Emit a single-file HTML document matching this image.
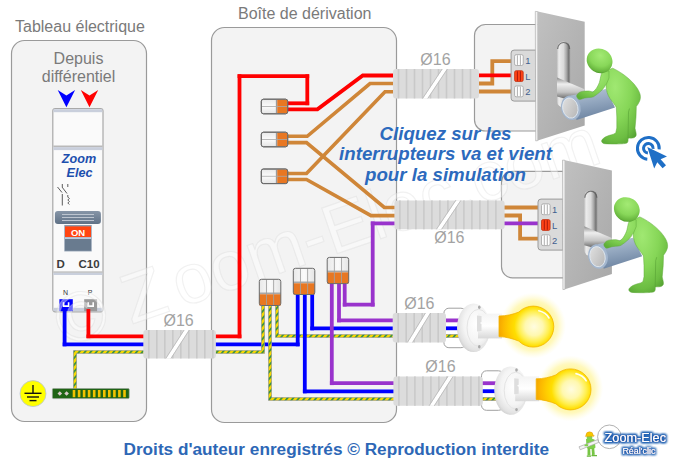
<!DOCTYPE html><html><head><meta charset="utf-8"><style>html,body{margin:0;padding:0;background:#fff;}svg{display:block;}text{font-family:"Liberation Sans",sans-serif;}</style></head><body>
<svg width="674" height="461" viewBox="0 0 674 461">
<defs>
<radialGradient id="glow" cx="0.5" cy="0.5" r="0.5"><stop offset="0.5" stop-color="#fff590" stop-opacity="1"/><stop offset="0.75" stop-color="#fff6a8" stop-opacity="0.75"/><stop offset="1" stop-color="#fffbd0" stop-opacity="0"/></radialGradient>
<radialGradient id="bulb" cx="0.5" cy="0.5" r="0.5"><stop offset="0" stop-color="#fffce8"/><stop offset="0.45" stop-color="#fff8b8"/><stop offset="0.75" stop-color="#ffea50"/><stop offset="0.9" stop-color="#ffd600"/><stop offset="1" stop-color="#f3b900"/></radialGradient>
<linearGradient id="neckg" x1="499" y1="0" x2="530" y2="0" gradientUnits="userSpaceOnUse"><stop offset="0" stop-color="#f2a200"/><stop offset="0.35" stop-color="#ffc400"/><stop offset="0.7" stop-color="#ffe23a"/><stop offset="1" stop-color="#ffea50"/></linearGradient>
<linearGradient id="sock" x1="0" y1="0" x2="0" y2="1"><stop offset="0" stop-color="#f4f4f4"/><stop offset="0.5" stop-color="#ffffff"/><stop offset="1" stop-color="#d8d8d8"/></linearGradient>
<linearGradient id="plate" x1="0" y1="0" x2="1" y2="1"><stop offset="0" stop-color="#c0c0c0"/><stop offset="1" stop-color="#a8a8a8"/></linearGradient>
<linearGradient id="cyl" x1="0" y1="0" x2="0.25" y2="1"><stop offset="0" stop-color="#b9c7d8"/><stop offset="0.5" stop-color="#93a7bf"/><stop offset="1" stop-color="#6f86a3"/></linearGradient>
<radialGradient id="green" cx="0.35" cy="0.25" r="0.85"><stop offset="0" stop-color="#a0e872"/><stop offset="0.5" stop-color="#86d657"/><stop offset="0.82" stop-color="#6cbd42"/><stop offset="1" stop-color="#529e30"/></radialGradient>
<linearGradient id="slot" x1="0" y1="0" x2="1" y2="0"><stop offset="0" stop-color="#bdbdbd"/><stop offset="0.15" stop-color="#ececec"/><stop offset="0.5" stop-color="#dadada"/><stop offset="0.72" stop-color="#a8a8a8"/><stop offset="0.88" stop-color="#767676"/><stop offset="1" stop-color="#9a9a9a"/></linearGradient>
<linearGradient id="lever" x1="0" y1="0" x2="0" y2="1"><stop offset="0" stop-color="#8c8c8c"/><stop offset="0.25" stop-color="#eeeeee"/><stop offset="0.55" stop-color="#c4c4c4"/><stop offset="0.8" stop-color="#6c6c6c"/><stop offset="1" stop-color="#555"/></linearGradient>
<linearGradient id="wago" x1="0" y1="0" x2="0" y2="1"><stop offset="0" stop-color="#e8e8e8"/><stop offset="0.5" stop-color="#fbfbfb"/><stop offset="1" stop-color="#e4e4e4"/></linearGradient>
<linearGradient id="wagoh" x1="0" y1="0" x2="1" y2="0"><stop offset="0" stop-color="#e8e8e8"/><stop offset="0.5" stop-color="#fbfbfb"/><stop offset="1" stop-color="#e4e4e4"/></linearGradient>
<linearGradient id="lev" x1="0" y1="0" x2="0" y2="1"><stop offset="0" stop-color="#8796a8"/><stop offset="1" stop-color="#5f7186"/></linearGradient>
<radialGradient id="pear" cx="534" cy="326.6" r="36" gradientUnits="userSpaceOnUse"><stop offset="0" stop-color="#fffce0"/><stop offset="0.25" stop-color="#fff8b0"/><stop offset="0.42" stop-color="#ffef50"/><stop offset="0.55" stop-color="#ffde00"/><stop offset="0.7" stop-color="#ffcc00"/><stop offset="0.86" stop-color="#fcb800"/><stop offset="1" stop-color="#f4a400"/></radialGradient>
<pattern id="gyp" patternUnits="userSpaceOnUse" width="4.4" height="4.4" patternTransform="rotate(40)"><rect width="4.4" height="4.4" fill="#f7d600"/><rect width="1.8" height="4.4" fill="#3f9440"/></pattern>
<radialGradient id="green2" cx="0.6" cy="0.2" r="0.9"><stop offset="0" stop-color="#a0e872"/><stop offset="0.6" stop-color="#84d455"/><stop offset="1" stop-color="#5eae38"/></radialGradient>
<radialGradient id="green3" cx="0.42" cy="0.3" r="0.72"><stop offset="0" stop-color="#a3ea74"/><stop offset="0.6" stop-color="#88d759"/><stop offset="0.9" stop-color="#68b63e"/><stop offset="1" stop-color="#4f9a2c"/></radialGradient>
<linearGradient id="cap" x1="0" y1="0" x2="1" y2="1"><stop offset="0" stop-color="#e2e2e2"/><stop offset="1" stop-color="#b4b4b4"/></linearGradient>
<radialGradient id="flange" cx="0.58" cy="0.42" r="0.62"><stop offset="0" stop-color="#ffffff"/><stop offset="0.6" stop-color="#f4f4f4"/><stop offset="0.88" stop-color="#e2e2e2"/><stop offset="1" stop-color="#cfcfcf"/></radialGradient>
</defs>
<text x="15" y="32" font-size="16" fill="#7a7a7a">Tableau électrique</text>
<text x="238" y="19" font-size="16" fill="#7a7a7a">Boîte de dérivation</text>
<rect x="11.5" y="40.5" width="135" height="381" rx="13" fill="#f3f3f3" stroke="#9a9a9a" stroke-width="1.2"/>
<rect x="211.5" y="27.5" width="185" height="395" rx="13" fill="#f3f3f3" stroke="#9a9a9a" stroke-width="1.2"/>
<rect x="474.5" y="24.5" width="80" height="106.5" rx="11" fill="#f3f3f3" stroke="#9a9a9a" stroke-width="1.2"/>
<rect x="501.5" y="171.3" width="80" height="106.5" rx="11" fill="#f3f3f3" stroke="#9a9a9a" stroke-width="1.2"/>
<text x="78.5" y="64" font-size="16" fill="#7a7a7a" text-anchor="middle">Depuis</text>
<text x="78.5" y="81.5" font-size="16" fill="#7a7a7a" text-anchor="middle">différentiel</text>
<path d="M57.7,90 L66.4,95.5 L75.10000000000001,90 L66.4,107.3 Z" fill="#0000ff"/>
<path d="M80.8,90 L89.5,95.5 L98.2,90 L89.5,107.3 Z" fill="#ff0000"/>
<g>
<rect x="52.8" y="108.5" width="50.2" height="203.3" rx="2.5" fill="#fafafa" stroke="#a9a9a9" stroke-width="1.2"/>
<rect x="53.4" y="109.2" width="49" height="3" fill="#c9cfdc"/>
<rect x="53.4" y="145.5" width="49" height="1.6" fill="#b9b9b9"/>
<rect x="53.4" y="147.1" width="49" height="3" fill="#c9cfdc"/>
<rect x="53.4" y="271.4" width="49" height="1.4" fill="#b9b9b9"/>
<rect x="53.4" y="272.8" width="49" height="2.2" fill="#c9cfdc"/>
<rect x="53.4" y="307.8" width="49" height="3.4" fill="#c9cfdc"/>
<text x="79" y="162.5" font-size="12.6" font-weight="bold" font-style="italic" fill="#1c4fae" text-anchor="middle">Zoom</text>
<text x="79.5" y="177" font-size="12.6" font-weight="bold" font-style="italic" fill="#1c4fae" text-anchor="middle">Elec</text>
<g stroke="#333" stroke-width="0.8" fill="none"><path d="M57.5,187 L62,192.5 M62.3,194 L62.3,205.5 M62.3,184 L62.3,187"/><path d="M62,187 L67,193.5 M67.8,184 L67.8,187 M67.8,195 L67.8,197 l1.5,1.5 l-1.5,1.5 l1.5,1.5 l-1.5,1.5 l1.5,1.5"/></g>
<rect x="54.9" y="210.9" width="46" height="13.1" rx="3" fill="url(#lev)"/>
<g stroke="#c4ccd6" stroke-width="0.9"><line x1="62" y1="214.5" x2="94" y2="214.5"/><line x1="62" y1="217.5" x2="94" y2="217.5"/><line x1="62" y1="220.5" x2="94" y2="220.5"/></g>
<rect x="64.3" y="225" width="27.4" height="26.4" fill="#8b9bae"/>
<rect x="65" y="226.4" width="26" height="10.8" fill="#ff4512"/>
<text x="78" y="235.6" font-size="9.5" font-weight="bold" fill="#ffffff" text-anchor="middle">ON</text>
<rect x="65" y="237.2" width="26" height="1.8" fill="#b9cbe0"/>
<rect x="65" y="239" width="26" height="11.6" fill="#697b8f"/>
<text x="56.6" y="267.6" font-size="11.5" font-weight="bold" fill="#3c3c3c">D</text>
<text x="99.6" y="267.6" font-size="11.5" font-weight="bold" fill="#3c3c3c" text-anchor="end">C10</text>
<text x="65.5" y="295.3" font-size="7" fill="#333" text-anchor="middle">N</text>
<text x="90" y="295.3" font-size="7" fill="#333" text-anchor="middle">P</text>
<rect x="59.4" y="299.2" width="13.4" height="12" fill="#0000ff"/>
<path d="M62.8,302.3 v4.6 h6.6 v-4.6 h-1.6 v3 h-3.4 v-3 z" fill="#fff"/>
<rect x="84.2" y="299.2" width="12.9" height="12" fill="#9a9a9a"/>
<path d="M87.4,302.3 v4.6 h6.6 v-4.6 h-1.6 v3 h-3.4 v-3 z" fill="#fff"/>
</g>
<circle cx="33" cy="393.6" r="13" fill="#ffff00" stroke="#b8c4d8" stroke-width="0.8"/>
<g stroke="#111" stroke-width="1.4"><line x1="33" y1="385" x2="33" y2="393"/><line x1="24.5" y1="393.3" x2="41.5" y2="393.3"/><line x1="27" y1="397" x2="39" y2="397"/><line x1="29.5" y1="400.6" x2="36.5" y2="400.6"/></g>
<text x="64.6" y="347.6" font-size="70" transform="rotate(-19 64.6 347.6)" fill="#ffffff" fill-opacity="0.4" stroke="#d6d6d6" stroke-opacity="0.34" stroke-width="1.1"><tspan>©</tspan><tspan dx="19">Z</tspan><tspan dx="10">oom-Elec.com</tspan></text>
<path d="M88.4,336.3 L239.5,336.3" fill="none" stroke="#ff0000" stroke-width="3.8" stroke-linecap="square" stroke-linejoin="miter"/><path d="M239.5,76.2 L307.3,76.2" fill="none" stroke="#ff0000" stroke-width="3.8" stroke-linecap="square" stroke-linejoin="miter"/><path d="M307.3,103.3 L286,103.3" fill="none" stroke="#ff0000" stroke-width="3.8" stroke-linecap="square" stroke-linejoin="miter"/><path d="M286,109.3 L317.4,109.3 L362.8,75.5 L400,75.5" fill="none" stroke="#ff0000" stroke-width="3.8" stroke-linecap="square" stroke-linejoin="miter"/><path d="M64.6,344.4 L297.7,344.4" fill="none" stroke="#0000ff" stroke-width="3.8" stroke-linecap="square" stroke-linejoin="miter"/><path d="M304.8,391.4 L400,391.4" fill="none" stroke="#0000ff" stroke-width="3.8" stroke-linecap="square" stroke-linejoin="miter"/><path d="M312.2,328.4 L400,328.4" fill="none" stroke="#0000ff" stroke-width="3.8" stroke-linecap="square" stroke-linejoin="miter"/><path d="M331.8,383.2 L400,383.2" fill="none" stroke="#9933cc" stroke-width="3.8" stroke-linecap="square" stroke-linejoin="miter"/><path d="M339,320.4 L400,320.4" fill="none" stroke="#9933cc" stroke-width="3.8" stroke-linecap="square" stroke-linejoin="miter"/><path d="M344.7,304.6 L372.7,304.6" fill="none" stroke="#9933cc" stroke-width="3.8" stroke-linecap="square" stroke-linejoin="miter"/><path d="M372.7,223.4 L400,223.4" fill="none" stroke="#9933cc" stroke-width="3.8" stroke-linecap="square" stroke-linejoin="miter"/><path d="M286,136.3 L307.2,136.3 L370,83.5 L400,83.5" fill="none" stroke="#cf8638" stroke-width="3.6" stroke-linecap="square" stroke-linejoin="miter"/><path d="M286,142.6 L306.5,142.6 L384.3,207.5 L400,207.5" fill="none" stroke="#cf8638" stroke-width="3.6" stroke-linecap="square" stroke-linejoin="miter"/><path d="M286,173.5 L306.5,173.5 L385,91.7 L400,91.7" fill="none" stroke="#cf8638" stroke-width="3.6" stroke-linecap="square" stroke-linejoin="miter"/><path d="M286,179.5 L306.5,179.5 L371,215.6 L400,215.6" fill="none" stroke="#cf8638" stroke-width="3.6" stroke-linecap="square" stroke-linejoin="miter"/>
<path d="M75,389 L75,352 L263,352 L263,304" fill="none" stroke="#979797" stroke-width="3.7"/><path d="M75,389 L75,352 L263,352 L263,304" fill="none" stroke="url(#gyp)" stroke-width="2.5"/>
<path d="M270,304 L270,399 L400,399" fill="none" stroke="#979797" stroke-width="3.7"/><path d="M270,304 L270,399 L400,399" fill="none" stroke="url(#gyp)" stroke-width="2.5"/>
<path d="M277,304 L277,336 L400,336" fill="none" stroke="#979797" stroke-width="3.7"/><path d="M277,304 L277,336 L400,336" fill="none" stroke="url(#gyp)" stroke-width="2.5"/>
<path d="M88.4,311 L88.4,336.3" fill="none" stroke="#ff0000" stroke-width="3.8" stroke-linecap="square" stroke-linejoin="miter"/><path d="M239.5,336.3 L239.5,76.2" fill="none" stroke="#ff0000" stroke-width="3.8" stroke-linecap="square" stroke-linejoin="miter"/><path d="M307.3,76.2 L307.3,103.3" fill="none" stroke="#ff0000" stroke-width="3.8" stroke-linecap="square" stroke-linejoin="miter"/><path d="M64.6,311 L64.6,344.4" fill="none" stroke="#0000ff" stroke-width="3.8" stroke-linecap="square" stroke-linejoin="miter"/><path d="M297.7,344.4 L297.7,292" fill="none" stroke="#0000ff" stroke-width="3.8" stroke-linecap="square" stroke-linejoin="miter"/><path d="M304.8,292 L304.8,391.4" fill="none" stroke="#0000ff" stroke-width="3.8" stroke-linecap="square" stroke-linejoin="miter"/><path d="M312.2,292 L312.2,328.4" fill="none" stroke="#0000ff" stroke-width="3.8" stroke-linecap="square" stroke-linejoin="miter"/><path d="M331.8,282 L331.8,383.2" fill="none" stroke="#9933cc" stroke-width="3.8" stroke-linecap="square" stroke-linejoin="miter"/><path d="M339,282 L339,320.4" fill="none" stroke="#9933cc" stroke-width="3.8" stroke-linecap="square" stroke-linejoin="miter"/><path d="M344.7,282 L344.7,304.6" fill="none" stroke="#9933cc" stroke-width="3.8" stroke-linecap="square" stroke-linejoin="miter"/><path d="M372.7,304.6 L372.7,223.4" fill="none" stroke="#9933cc" stroke-width="3.8" stroke-linecap="square" stroke-linejoin="miter"/>
<path d="M475,83.5 L492.3,83.5 L492.3,61.1 L512,61.1" fill="none" stroke="#cf8638" stroke-width="3.8" stroke-linejoin="miter"/>
<path d="M475,91.5 L512,91.5" fill="none" stroke="#cf8638" stroke-width="3.8" stroke-linejoin="miter"/>
<path d="M475,75.3 L512,75.3" fill="none" stroke="#ff0000" stroke-width="3.8" stroke-linejoin="miter"/>
<path d="M500,207.5 L539,207.5" fill="none" stroke="#cf8638" stroke-width="3.8" stroke-linejoin="miter"/>
<path d="M500,215.5 L520.1,215.5 L520.1,238.7 L539,238.7" fill="none" stroke="#cf8638" stroke-width="3.8" stroke-linejoin="miter"/>
<path d="M500,223.3 L539,223.3" fill="none" stroke="#9933cc" stroke-width="3.8" stroke-linejoin="miter"/>
<rect x="443.9" y="308.2" width="22" height="39.5" rx="5" fill="#ffffff" stroke="#a0a0a0" stroke-width="1"/>
<rect x="481.5" y="370.8" width="22" height="39.5" rx="5" fill="#ffffff" stroke="#a0a0a0" stroke-width="1"/>
<path d="M440,320.4 L462,320.4" fill="none" stroke="#9933cc" stroke-width="3.8" stroke-linejoin="miter"/>
<path d="M440,328.3 L462,328.3" fill="none" stroke="#0000ff" stroke-width="3.8" stroke-linejoin="miter"/>
<path d="M440,336 L462,336" fill="none" stroke="#979797" stroke-width="3.7"/><path d="M440,336 L462,336" fill="none" stroke="url(#gyp)" stroke-width="2.5"/>
<path d="M478,383.2 L499,383.2" fill="none" stroke="#9933cc" stroke-width="3.8" stroke-linejoin="miter"/>
<path d="M478,391.2 L499,391.2" fill="none" stroke="#0000ff" stroke-width="3.8" stroke-linejoin="miter"/>
<path d="M478,399 L499,399" fill="none" stroke="#979797" stroke-width="3.7"/><path d="M478,399 L499,399" fill="none" stroke="url(#gyp)" stroke-width="2.5"/>
<rect x="52.4" y="388.5" width="76.8" height="10.1" rx="1" fill="#1f6414" stroke="#9aa39a" stroke-width="0.6"/>
<path d="M57.5,393.5 l2.3,-2.3 l2.3,2.3 l-2.3,2.3 z M64.3,393.5 l2.3,-2.3 l2.3,2.3 l-2.3,2.3 z" fill="#d8c8c8"/>
<rect x="72.7" y="390" width="2.6" height="7.2" fill="#f2c200"/>
<rect x="77.8" y="390" width="2.6" height="7.2" fill="#f2c200"/>
<rect x="82.8" y="390" width="2.6" height="7.2" fill="#f2c200"/>
<rect x="87.8" y="390" width="2.6" height="7.2" fill="#f2c200"/>
<rect x="92.9" y="390" width="2.6" height="7.2" fill="#f2c200"/>
<rect x="97.9" y="390" width="2.6" height="7.2" fill="#f2c200"/>
<rect x="103.0" y="390" width="2.6" height="7.2" fill="#f2c200"/>
<rect x="108.0" y="390" width="2.6" height="7.2" fill="#f2c200"/>
<rect x="113.1" y="390" width="2.6" height="7.2" fill="#f2c200"/>
<rect x="118.1" y="390" width="2.6" height="7.2" fill="#f2c200"/>
<rect x="123.2" y="390" width="2.6" height="7.2" fill="#f2c200"/>
<g><rect x="143.3" y="330" width="72.6" height="28.399999999999977" rx="3" fill="#dcdcdc"/><rect x="148.0" y="330" width="1.6" height="28.399999999999977" fill="#c9c9c9"/><rect x="156.0" y="330" width="1.6" height="28.399999999999977" fill="#c9c9c9"/><rect x="164.0" y="330" width="1.6" height="28.399999999999977" fill="#c9c9c9"/><rect x="172.0" y="330" width="1.6" height="28.399999999999977" fill="#c9c9c9"/><rect x="180.0" y="330" width="1.6" height="28.399999999999977" fill="#c9c9c9"/><rect x="188.0" y="330" width="1.6" height="28.399999999999977" fill="#c9c9c9"/><rect x="196.0" y="330" width="1.6" height="28.399999999999977" fill="#c9c9c9"/><rect x="204.0" y="330" width="1.6" height="28.399999999999977" fill="#c9c9c9"/><rect x="212.0" y="330" width="1.6" height="28.399999999999977" fill="#c9c9c9"/><polygon points="166.20000000000002,358.4 170.6,358.4 188.89999999999998,330 184.5,330" fill="#ffffff"/><line x1="165.8" y1="358.4" x2="184.1" y2="330" stroke="#b8b8b8" stroke-width="0.8"/><line x1="171.0" y1="358.4" x2="189.29999999999998" y2="330" stroke="#b8b8b8" stroke-width="0.8"/></g>
<g><rect x="393" y="69" width="86" height="29.400000000000006" rx="3" fill="#dcdcdc"/><rect x="397.7" y="69" width="1.6" height="29.400000000000006" fill="#c9c9c9"/><rect x="405.7" y="69" width="1.6" height="29.400000000000006" fill="#c9c9c9"/><rect x="413.7" y="69" width="1.6" height="29.400000000000006" fill="#c9c9c9"/><rect x="421.7" y="69" width="1.6" height="29.400000000000006" fill="#c9c9c9"/><rect x="429.7" y="69" width="1.6" height="29.400000000000006" fill="#c9c9c9"/><rect x="437.7" y="69" width="1.6" height="29.400000000000006" fill="#c9c9c9"/><rect x="445.7" y="69" width="1.6" height="29.400000000000006" fill="#c9c9c9"/><rect x="453.7" y="69" width="1.6" height="29.400000000000006" fill="#c9c9c9"/><rect x="461.7" y="69" width="1.6" height="29.400000000000006" fill="#c9c9c9"/><rect x="469.7" y="69" width="1.6" height="29.400000000000006" fill="#c9c9c9"/><polygon points="423.0,98.4 427.4,98.4 447.0,69 442.6,69" fill="#ffffff"/><line x1="422.59999999999997" y1="98.4" x2="442.2" y2="69" stroke="#b8b8b8" stroke-width="0.8"/><line x1="427.8" y1="98.4" x2="447.40000000000003" y2="69" stroke="#b8b8b8" stroke-width="0.8"/></g>
<g><rect x="394.4" y="200.4" width="110.20000000000005" height="28.900000000000006" rx="3" fill="#dcdcdc"/><rect x="399.1" y="200.4" width="1.6" height="28.900000000000006" fill="#c9c9c9"/><rect x="407.1" y="200.4" width="1.6" height="28.900000000000006" fill="#c9c9c9"/><rect x="415.1" y="200.4" width="1.6" height="28.900000000000006" fill="#c9c9c9"/><rect x="423.1" y="200.4" width="1.6" height="28.900000000000006" fill="#c9c9c9"/><rect x="431.1" y="200.4" width="1.6" height="28.900000000000006" fill="#c9c9c9"/><rect x="439.1" y="200.4" width="1.6" height="28.900000000000006" fill="#c9c9c9"/><rect x="447.1" y="200.4" width="1.6" height="28.900000000000006" fill="#c9c9c9"/><rect x="455.1" y="200.4" width="1.6" height="28.900000000000006" fill="#c9c9c9"/><rect x="463.1" y="200.4" width="1.6" height="28.900000000000006" fill="#c9c9c9"/><rect x="471.1" y="200.4" width="1.6" height="28.900000000000006" fill="#c9c9c9"/><rect x="479.1" y="200.4" width="1.6" height="28.900000000000006" fill="#c9c9c9"/><rect x="487.1" y="200.4" width="1.6" height="28.900000000000006" fill="#c9c9c9"/><rect x="495.1" y="200.4" width="1.6" height="28.900000000000006" fill="#c9c9c9"/><polygon points="436.8,229.3 441.2,229.3 460.5,200.4 456.1,200.4" fill="#ffffff"/><line x1="436.4" y1="229.3" x2="455.7" y2="200.4" stroke="#b8b8b8" stroke-width="0.8"/><line x1="441.6" y1="229.3" x2="460.90000000000003" y2="200.4" stroke="#b8b8b8" stroke-width="0.8"/></g>
<g><rect x="392.7" y="313" width="53.30000000000001" height="29.399999999999977" rx="3" fill="#dcdcdc"/><rect x="397.4" y="313" width="1.6" height="29.399999999999977" fill="#c9c9c9"/><rect x="405.4" y="313" width="1.6" height="29.399999999999977" fill="#c9c9c9"/><rect x="413.4" y="313" width="1.6" height="29.399999999999977" fill="#c9c9c9"/><rect x="421.4" y="313" width="1.6" height="29.399999999999977" fill="#c9c9c9"/><rect x="429.4" y="313" width="1.6" height="29.399999999999977" fill="#c9c9c9"/><rect x="437.4" y="313" width="1.6" height="29.399999999999977" fill="#c9c9c9"/><polygon points="407.8,342.4 412.2,342.4 430.2,313 425.8,313" fill="#ffffff"/><line x1="407.4" y1="342.4" x2="425.4" y2="313" stroke="#b8b8b8" stroke-width="0.8"/><line x1="412.6" y1="342.4" x2="430.6" y2="313" stroke="#b8b8b8" stroke-width="0.8"/></g>
<g><rect x="393.4" y="376.4" width="89.40000000000003" height="29.400000000000034" rx="3" fill="#dcdcdc"/><rect x="398.1" y="376.4" width="1.6" height="29.400000000000034" fill="#c9c9c9"/><rect x="406.1" y="376.4" width="1.6" height="29.400000000000034" fill="#c9c9c9"/><rect x="414.1" y="376.4" width="1.6" height="29.400000000000034" fill="#c9c9c9"/><rect x="422.1" y="376.4" width="1.6" height="29.400000000000034" fill="#c9c9c9"/><rect x="430.1" y="376.4" width="1.6" height="29.400000000000034" fill="#c9c9c9"/><rect x="438.1" y="376.4" width="1.6" height="29.400000000000034" fill="#c9c9c9"/><rect x="446.1" y="376.4" width="1.6" height="29.400000000000034" fill="#c9c9c9"/><rect x="454.1" y="376.4" width="1.6" height="29.400000000000034" fill="#c9c9c9"/><rect x="462.1" y="376.4" width="1.6" height="29.400000000000034" fill="#c9c9c9"/><rect x="470.1" y="376.4" width="1.6" height="29.400000000000034" fill="#c9c9c9"/><rect x="478.1" y="376.4" width="1.6" height="29.400000000000034" fill="#c9c9c9"/><polygon points="429.5,405.8 433.9,405.8 452.7,376.4 448.3,376.4" fill="#ffffff"/><line x1="429.09999999999997" y1="405.8" x2="447.9" y2="376.4" stroke="#b8b8b8" stroke-width="0.8"/><line x1="434.3" y1="405.8" x2="453.1" y2="376.4" stroke="#b8b8b8" stroke-width="0.8"/></g>
<text x="163.5" y="325.7" font-size="16" fill="#a3a3a3">Ø16</text>
<text x="420.3" y="64.8" font-size="16" fill="#a3a3a3">Ø16</text>
<text x="434.2" y="243.3" font-size="16" fill="#a3a3a3">Ø16</text>
<text x="404.2" y="308.5" font-size="16" fill="#a3a3a3">Ø16</text>
<text x="425.3" y="371.6" font-size="16" fill="#a3a3a3">Ø16</text>
<rect x="261.3" y="99.2" width="26.4" height="14.6" rx="2.2" fill="url(#wago)" stroke="#6a6a6a" stroke-width="1"/><rect x="277.2" y="99.7" width="10.0" height="13.6" fill="#e87722"/><line x1="276.5" y1="99.7" x2="276.5" y2="113.3" stroke="#9a9a9a" stroke-width="1.3"/><line x1="261.8" y1="106.5" x2="287.2" y2="106.5" stroke="#a8a8a8" stroke-width="0.8"/><rect x="261.3" y="99.2" width="26.4" height="14.6" rx="2.2" fill="none" stroke="#6a6a6a" stroke-width="1"/>
<rect x="261.3" y="132.2" width="26.4" height="14.6" rx="2.2" fill="url(#wago)" stroke="#6a6a6a" stroke-width="1"/><rect x="277.2" y="132.7" width="10.0" height="13.6" fill="#e87722"/><line x1="276.5" y1="132.7" x2="276.5" y2="146.29999999999998" stroke="#9a9a9a" stroke-width="1.3"/><line x1="261.8" y1="139.5" x2="287.2" y2="139.5" stroke="#a8a8a8" stroke-width="0.8"/><rect x="261.3" y="132.2" width="26.4" height="14.6" rx="2.2" fill="none" stroke="#6a6a6a" stroke-width="1"/>
<rect x="261.3" y="169.0" width="26.4" height="14.6" rx="2.2" fill="url(#wago)" stroke="#6a6a6a" stroke-width="1"/><rect x="277.2" y="169.5" width="10.0" height="13.6" fill="#e87722"/><line x1="276.5" y1="169.5" x2="276.5" y2="183.1" stroke="#9a9a9a" stroke-width="1.3"/><line x1="261.8" y1="176.3" x2="287.2" y2="176.3" stroke="#a8a8a8" stroke-width="0.8"/><rect x="261.3" y="169.0" width="26.4" height="14.6" rx="2.2" fill="none" stroke="#6a6a6a" stroke-width="1"/>
<rect x="259.3" y="279.3" width="21.5" height="26.2" rx="2.2" fill="url(#wagoh)"/><rect x="259.3" y="292.5" width="21.5" height="1.8" fill="#a8a8a8"/><rect x="259.3" y="294.3" width="21.5" height="11.2" fill="#e87722"/><line x1="266.4666666666667" y1="279.8" x2="266.4666666666667" y2="305.0" stroke="#a0a0a0" stroke-width="0.9"/><line x1="273.6333333333333" y1="279.8" x2="273.6333333333333" y2="305.0" stroke="#a0a0a0" stroke-width="0.9"/><rect x="259.3" y="279.3" width="21.5" height="26.2" rx="2.2" fill="none" stroke="#6a6a6a" stroke-width="1"/>
<rect x="293.3" y="268.3" width="21.5" height="26.2" rx="2.2" fill="url(#wagoh)"/><rect x="293.3" y="281.5" width="21.5" height="1.8" fill="#a8a8a8"/><rect x="293.3" y="283.3" width="21.5" height="11.2" fill="#e87722"/><line x1="300.4666666666667" y1="268.8" x2="300.4666666666667" y2="294.0" stroke="#a0a0a0" stroke-width="0.9"/><line x1="307.6333333333333" y1="268.8" x2="307.6333333333333" y2="294.0" stroke="#a0a0a0" stroke-width="0.9"/><rect x="293.3" y="268.3" width="21.5" height="26.2" rx="2.2" fill="none" stroke="#6a6a6a" stroke-width="1"/>
<rect x="327.2" y="257.4" width="21.5" height="26.2" rx="2.2" fill="url(#wagoh)"/><rect x="327.2" y="270.59999999999997" width="21.5" height="1.8" fill="#a8a8a8"/><rect x="327.2" y="272.4" width="21.5" height="11.2" fill="#e87722"/><line x1="334.3666666666667" y1="257.9" x2="334.3666666666667" y2="283.09999999999997" stroke="#a0a0a0" stroke-width="0.9"/><line x1="341.5333333333333" y1="257.9" x2="341.5333333333333" y2="283.09999999999997" stroke="#a0a0a0" stroke-width="0.9"/><rect x="327.2" y="257.4" width="21.5" height="26.2" rx="2.2" fill="none" stroke="#6a6a6a" stroke-width="1"/>
<path d="M514.1,50.1 H536.1 V101.1 H514.1 Q511.1,101.1 511.1,98.1 V53.1 Q511.1,50.1 514.1,50.1 Z" fill="#dadada" stroke="#9a9a9a" stroke-width="1"/><rect x="514.6" y="54.7" width="8.6" height="10.8" rx="1.6" fill="#ffffff" stroke="#a0a0a0" stroke-width="0.8"/><line x1="517.4" y1="55.300000000000004" x2="517.4" y2="64.9" stroke="#a5a5a5" stroke-width="0.9"/><line x1="520.4" y1="55.300000000000004" x2="520.4" y2="64.9" stroke="#a5a5a5" stroke-width="0.9"/><text x="525.2" y="63.7" font-size="9.4" fill="#3f5f8f">1</text><rect x="514.6" y="70.7" width="8.6" height="10.8" rx="1.6" fill="#ff4316" stroke="#c03010" stroke-width="0.8"/><line x1="517.4" y1="71.3" x2="517.4" y2="80.9" stroke="#a0150a" stroke-width="0.9"/><line x1="520.4" y1="71.3" x2="520.4" y2="80.9" stroke="#a0150a" stroke-width="0.9"/><text x="525.2" y="79.7" font-size="9.4" fill="#3f5f8f">L</text><rect x="514.6" y="86.0" width="8.6" height="10.8" rx="1.6" fill="#ffffff" stroke="#a0a0a0" stroke-width="0.8"/><line x1="517.4" y1="86.6" x2="517.4" y2="96.2" stroke="#a5a5a5" stroke-width="0.9"/><line x1="520.4" y1="86.6" x2="520.4" y2="96.2" stroke="#a5a5a5" stroke-width="0.9"/><text x="525.2" y="95.0" font-size="9.4" fill="#3f5f8f">2</text>
<path d="M541.0,199.1 H563.0 V250.1 H541.0 Q538.0,250.1 538.0,247.1 V202.1 Q538.0,199.1 541.0,199.1 Z" fill="#dadada" stroke="#9a9a9a" stroke-width="1"/><rect x="541.5" y="203.9" width="8.6" height="10.8" rx="1.6" fill="#ffffff" stroke="#a0a0a0" stroke-width="0.8"/><line x1="544.3" y1="204.5" x2="544.3" y2="214.1" stroke="#a5a5a5" stroke-width="0.9"/><line x1="547.3" y1="204.5" x2="547.3" y2="214.1" stroke="#a5a5a5" stroke-width="0.9"/><text x="552.1" y="212.9" font-size="9.4" fill="#3f5f8f">1</text><rect x="541.5" y="219.6" width="8.6" height="10.8" rx="1.6" fill="#ff4316" stroke="#c03010" stroke-width="0.8"/><line x1="544.3" y1="220.2" x2="544.3" y2="229.79999999999998" stroke="#a0150a" stroke-width="0.9"/><line x1="547.3" y1="220.2" x2="547.3" y2="229.79999999999998" stroke="#a0150a" stroke-width="0.9"/><text x="552.1" y="228.6" font-size="9.4" fill="#3f5f8f">L</text><rect x="541.5" y="234.8" width="8.6" height="10.8" rx="1.6" fill="#ffffff" stroke="#a0a0a0" stroke-width="0.8"/><line x1="544.3" y1="235.4" x2="544.3" y2="245.0" stroke="#a5a5a5" stroke-width="0.9"/><line x1="547.3" y1="235.4" x2="547.3" y2="245.0" stroke="#a5a5a5" stroke-width="0.9"/><text x="552.1" y="243.8" font-size="9.4" fill="#3f5f8f">2</text>
<g id="sw">
<polygon points="535.3,11.4 537.8,11.6 537.8,140.6 535.7,140.9" fill="#f2f2f2" stroke="#a6a6a6" stroke-width="0.6"/>
<polygon points="537.8,11.6 584.7,21.7 584.7,125.4 537.8,140.6" fill="url(#plate)"/>
<rect x="556.9" y="41.5" width="13.3" height="66" rx="6.6" fill="url(#slot)"/>
<path d="M557.6,49 A6,6.5 0 0 1 569.6,49" fill="none" stroke="#5a5a5a" stroke-width="1.2" opacity="0.8"/>
<polygon points="557,77.5 584.6,89.3 584.6,104 557,96.5" fill="url(#lever)"/>
<path d="M570.8,95.4 L606,89 L615,107.5 L576.5,120.1 Z" fill="url(#cyl)"/>
<ellipse cx="570.8" cy="107.8" rx="9.8" ry="12.4" transform="rotate(-12 570.8 107.8)" fill="#a3b6ce"/>
<ellipse cx="570.3" cy="108" rx="7.6" ry="10.2" transform="rotate(-12 570.3 108)" fill="url(#cap)" stroke="#dfe7f0" stroke-width="0.9"/>
<path d="M612.6,68.2 C619,71 628,77 634,84 C639,90 641.5,95 640,100 C639,103 637.5,105 636.3,106.5 L636,117 L635,128.2 C635.5,131 636.8,134 636,136 C635,138 632,138.3 629.5,138.1 L628,138.5 C628.3,140.5 628,142.5 626.8,143.1 C624,144.2 612,144.2 604.6,143.7 C601.5,143 601,141 602.2,139.5 C604,137.5 607,136 609.5,135.3 C612.5,134.5 615,134 615.8,132.5 L616.8,128 L616.8,117 L616.3,107.2 C614.5,104.5 612,101 610,98.5 C607.5,95 606.2,90 606,86 L605.6,83.9 L606.5,79 C605.5,76.5 604.5,75 603.9,73.6 L608,70 Z" fill="url(#green)" stroke="#5ea83a" stroke-width="0.5"/>
<path d="M628,138 L628.5,112 L629.5,108.5" fill="none" stroke="#4f9a2e" stroke-width="0.7" opacity="0.7"/>
<path d="M601.2,74.5 C600.4,77.8 600,80.5 599.4,82.4 C598,86 596.5,88.5 595.2,89.8 C594.3,91 593.5,91.8 592.3,92.1 C590.5,91.3 589,90.8 587.8,91 C585,91.1 582.8,91.3 581.1,91.7 C579.5,92.2 578.6,92.8 578.2,93.5 C577,94.5 576.4,95.5 576.7,96.5 C577.3,98.3 578.5,99.5 579.6,99.5 C581.5,99.2 583.5,98.4 584.8,98 C587,97.6 589.5,97.5 591.5,97.3 C593,97 594,96.6 594.5,96.1 C596.5,94.8 598.2,93.5 599.7,92.1 C601.7,90.5 603,89 604.1,87.6 C604.8,86.3 605.3,85 606.5,83.9 L609,78 L609,71 L603,70.5 Z" fill="url(#green2)" stroke="#5ea83a" stroke-width="0.5"/>
<ellipse cx="599.6" cy="60.8" rx="13.2" ry="12" transform="rotate(32 599.6 60.8)" fill="url(#green3)"/>
</g>
<use href="#sw" transform="translate(27.2,148.7)"/>
<g fill="none" stroke="#1f6fc6" stroke-width="3"><path d="M659.2,149.4 A10.9,10.9 0 1 0 647.3,159.2"/><path d="M653.1,148.8 A4.8,4.8 0 1 0 647.9,153.1"/></g>
<path d="M647.3,147 L667,156.6 L660.6,159.2 L666,165.3 L662.6,168.3 L657.3,162.2 L654.2,168.5 Z" fill="#1f6fc6"/>
<g id="bulbg">
<circle cx="533" cy="325.6" r="33" fill="url(#glow)"/>
<ellipse cx="473.6" cy="327.8" rx="16.6" ry="24.2" fill="url(#flange)"/>
<ellipse cx="478.5" cy="327.8" rx="11.5" ry="18.5" fill="none" stroke="#e4e4e4" stroke-width="1"/>
<ellipse cx="479.3" cy="307.2" rx="1.3" ry="1.7" fill="#a9a9a9"/><ellipse cx="479.3" cy="346.8" rx="1.3" ry="1.7" fill="#a9a9a9"/>
<rect x="478" y="313.6" width="24" height="24.8" fill="url(#sock)"/>
<path d="M477,315.5 L481.5,316 L481.5,322 L479.8,323 L481.5,324 L481.5,331 L477,331.5 Z" fill="#dedede"/>
<path d="M499,316 C506,316 513,314.5 518.8,312.1 A20.5,20.5 0 1 1 518.8,341.1 C513,338.7 506,336.8 499,336.6 Z" fill="url(#pear)" stroke="#f2b400" stroke-width="0.8"/>
<path d="M538.8,310.8 Q546,312.5 549,318" fill="none" stroke="#fffef0" stroke-width="1.6" stroke-linecap="round"/>
</g>
<use href="#bulbg" transform="translate(37.2,62.8)"/>
<g font-size="18.7" font-weight="bold" font-style="italic" fill="#2c6abd" text-anchor="middle"><text x="445.5" y="139.5">Cliquez sur les</text><text x="445.5" y="160.4">interrupteurs va et vient</text><text x="445.5" y="181.4">pour la simulation</text></g>
<text x="123.5" y="454.7" font-size="17.2" font-weight="bold" fill="#2d67b6">Droits d'auteur enregistrés © Reproduction interdite</text>
<g>
<filter id="gl" x="-20%" y="-40%" width="140%" height="180%"><feMorphology operator="dilate" radius="0.9" in="SourceAlpha" result="d"/><feGaussianBlur in="d" stdDeviation="1.1" result="b"/><feFlood flood-color="#1d5cb0"/><feComposite in2="b" operator="in" result="c"/><feMerge><feMergeNode in="c"/><feMergeNode in="c"/><feMergeNode in="SourceGraphic"/></feMerge></filter>
<circle cx="609.4" cy="436.8" r="11.8" fill="#ffffff" stroke="#a8a8a8" stroke-width="0.9"/>
<g filter="url(#gl)" fill="#ffffff">
<text x="604.6" y="441.5" font-size="13" textLength="61.4" lengthAdjust="spacingAndGlyphs">Zoom-Elec</text>
<text x="622.4" y="453.8" font-size="9.2" textLength="33" lengthAdjust="spacingAndGlyphs">Réal'clic</text>
</g>
<path d="M586,439 Q590,438 594.5,439.5 L595.5,447.5 L593.5,449 L588,449 L586.5,447 Z" fill="#7fcf4a"/>
<path d="M587.6,448 L590.2,448 L590.5,455.5 L587.5,455.5 Z M591.5,448 L594.2,448 L594.8,454.8 L592,455 Z" fill="#76c544"/>
<path d="M586.8,455.6 L591,455.6 L591,456.8 L586.8,456.8 Z M591.5,454.8 L597,455 L597,456.3 L591.5,456.2 Z" fill="#6ab83c"/>
<ellipse cx="589.5" cy="437.4" rx="2.8" ry="2.6" fill="#82d150"/>
<path d="M585.8,435.6 Q586,431.8 589.5,431.8 Q593,431.8 593.2,435.2 L594.2,435.4 L594,436.3 L585.4,436.4 Z" fill="#f5c800" stroke="#e08a10" stroke-width="0.4"/>
<path d="M579,446.8 L597.6,439.6 L598.8,442.4 L580.3,449.7 Z" fill="#f4f4f4" stroke="#9a9a9a" stroke-width="0.6"/>
<path d="M584.5,445 Q586.5,443.5 588.5,444.5 L588,446 Q586,446.5 584.5,446.3 Z" fill="#7fcf4a"/>
</g>
</svg></body></html>
